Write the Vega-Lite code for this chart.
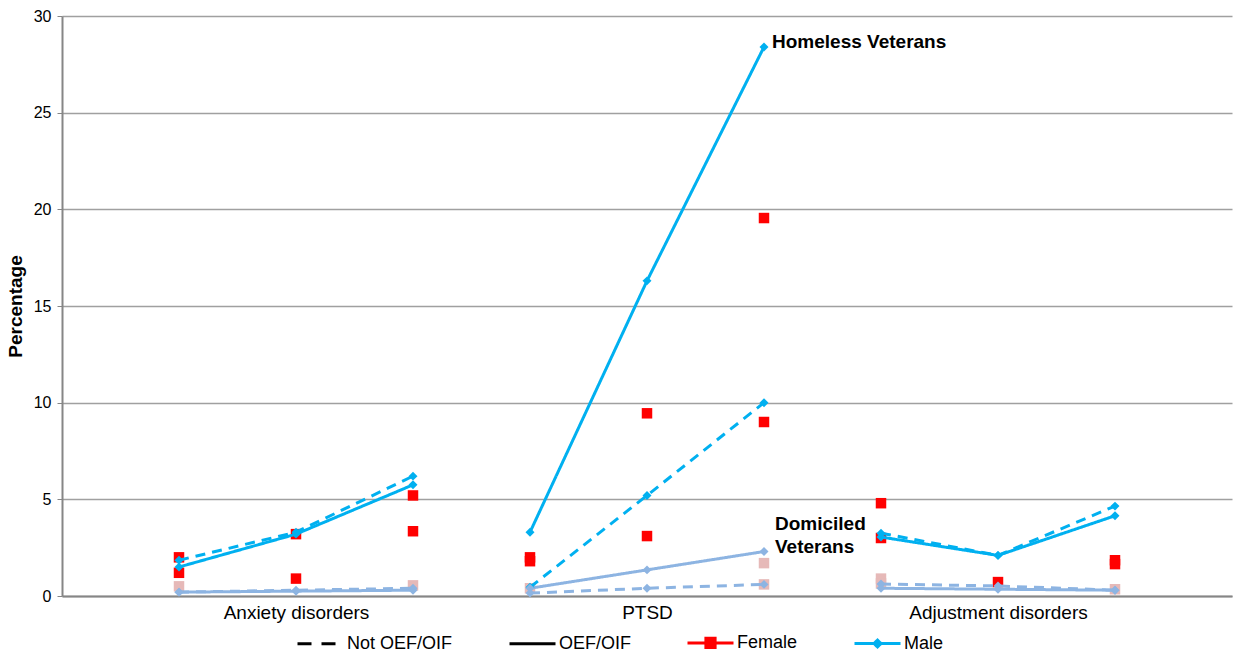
{
  "$schema": "https://vega.github.io/schema/vega-lite/v6.json",
  "width": 1170,
  "height": 580,
  "autosize": {"type": "none"},
  "padding": {"left": 62, "top": 16, "right": 3, "bottom": 60},
  "background": "white",
  "config": {"view": {"stroke": null}, "font": "Liberation Sans"},
  "datasets": {
    "male": [
      {"disorder": "Anxiety disorders", "pos": 1, "series": "Homeless male", "service": "OEF/OIF", "value": 1.5},
      {"disorder": "Anxiety disorders", "pos": 2, "series": "Homeless male", "service": "OEF/OIF", "value": 3.2},
      {"disorder": "Anxiety disorders", "pos": 3, "series": "Homeless male", "service": "OEF/OIF", "value": 5.75},
      {"disorder": "Anxiety disorders", "pos": 1, "series": "Homeless male", "service": "Not OEF/OIF", "value": 1.85},
      {"disorder": "Anxiety disorders", "pos": 2, "series": "Homeless male", "service": "Not OEF/OIF", "value": 3.3},
      {"disorder": "Anxiety disorders", "pos": 3, "series": "Homeless male", "service": "Not OEF/OIF", "value": 6.2},
      {"disorder": "Anxiety disorders", "pos": 1, "series": "Domiciled male", "service": "OEF/OIF", "value": 0.2},
      {"disorder": "Anxiety disorders", "pos": 2, "series": "Domiciled male", "service": "OEF/OIF", "value": 0.25},
      {"disorder": "Anxiety disorders", "pos": 3, "series": "Domiciled male", "service": "OEF/OIF", "value": 0.3},
      {"disorder": "Anxiety disorders", "pos": 1, "series": "Domiciled male", "service": "Not OEF/OIF", "value": 0.2},
      {"disorder": "Anxiety disorders", "pos": 2, "series": "Domiciled male", "service": "Not OEF/OIF", "value": 0.3},
      {"disorder": "Anxiety disorders", "pos": 3, "series": "Domiciled male", "service": "Not OEF/OIF", "value": 0.4},
      {"disorder": "PTSD", "pos": 4, "series": "Homeless male", "service": "OEF/OIF", "value": 3.3},
      {"disorder": "PTSD", "pos": 5, "series": "Homeless male", "service": "OEF/OIF", "value": 16.3},
      {"disorder": "PTSD", "pos": 6, "series": "Homeless male", "service": "OEF/OIF", "value": 28.4},
      {"disorder": "PTSD", "pos": 4, "series": "Homeless male", "service": "Not OEF/OIF", "value": 0.45},
      {"disorder": "PTSD", "pos": 5, "series": "Homeless male", "service": "Not OEF/OIF", "value": 5.2},
      {"disorder": "PTSD", "pos": 6, "series": "Homeless male", "service": "Not OEF/OIF", "value": 10.0},
      {"disorder": "PTSD", "pos": 4, "series": "Domiciled male", "service": "OEF/OIF", "value": 0.4},
      {"disorder": "PTSD", "pos": 5, "series": "Domiciled male", "service": "OEF/OIF", "value": 1.35},
      {"disorder": "PTSD", "pos": 6, "series": "Domiciled male", "service": "OEF/OIF", "value": 2.3},
      {"disorder": "PTSD", "pos": 4, "series": "Domiciled male", "service": "Not OEF/OIF", "value": 0.15},
      {"disorder": "PTSD", "pos": 5, "series": "Domiciled male", "service": "Not OEF/OIF", "value": 0.4},
      {"disorder": "PTSD", "pos": 6, "series": "Domiciled male", "service": "Not OEF/OIF", "value": 0.6},
      {"disorder": "Adjustment disorders", "pos": 7, "series": "Homeless male", "service": "OEF/OIF", "value": 3.05},
      {"disorder": "Adjustment disorders", "pos": 8, "series": "Homeless male", "service": "OEF/OIF", "value": 2.1},
      {"disorder": "Adjustment disorders", "pos": 9, "series": "Homeless male", "service": "OEF/OIF", "value": 4.15},
      {"disorder": "Adjustment disorders", "pos": 7, "series": "Homeless male", "service": "Not OEF/OIF", "value": 3.25},
      {"disorder": "Adjustment disorders", "pos": 8, "series": "Homeless male", "service": "Not OEF/OIF", "value": 2.1},
      {"disorder": "Adjustment disorders", "pos": 9, "series": "Homeless male", "service": "Not OEF/OIF", "value": 4.65},
      {"disorder": "Adjustment disorders", "pos": 7, "series": "Domiciled male", "service": "OEF/OIF", "value": 0.4},
      {"disorder": "Adjustment disorders", "pos": 8, "series": "Domiciled male", "service": "OEF/OIF", "value": 0.35},
      {"disorder": "Adjustment disorders", "pos": 9, "series": "Domiciled male", "service": "OEF/OIF", "value": 0.3},
      {"disorder": "Adjustment disorders", "pos": 7, "series": "Domiciled male", "service": "Not OEF/OIF", "value": 0.62},
      {"disorder": "Adjustment disorders", "pos": 8, "series": "Domiciled male", "service": "Not OEF/OIF", "value": 0.52},
      {"disorder": "Adjustment disorders", "pos": 9, "series": "Domiciled male", "service": "Not OEF/OIF", "value": 0.3}
    ],
    "female": [
      {"pos": 1, "series": "Homeless female", "value": 2.0},
      {"pos": 1, "series": "Homeless female", "value": 1.2},
      {"pos": 2, "series": "Homeless female", "value": 3.2},
      {"pos": 2, "series": "Homeless female", "value": 0.9},
      {"pos": 3, "series": "Homeless female", "value": 5.2},
      {"pos": 3, "series": "Homeless female", "value": 3.35},
      {"pos": 4, "series": "Homeless female", "value": 2.0},
      {"pos": 4, "series": "Homeless female", "value": 1.8},
      {"pos": 5, "series": "Homeless female", "value": 9.45},
      {"pos": 5, "series": "Homeless female", "value": 3.1},
      {"pos": 6, "series": "Homeless female", "value": 19.55},
      {"pos": 6, "series": "Homeless female", "value": 9.0},
      {"pos": 7, "series": "Homeless female", "value": 4.8},
      {"pos": 7, "series": "Homeless female", "value": 3.0},
      {"pos": 8, "series": "Homeless female", "value": 0.72},
      {"pos": 9, "series": "Homeless female", "value": 1.85},
      {"pos": 9, "series": "Homeless female", "value": 1.65},
      {"pos": 1, "series": "Domiciled female", "value": 0.5},
      {"pos": 3, "series": "Domiciled female", "value": 0.55},
      {"pos": 4, "series": "Domiciled female", "value": 0.4},
      {"pos": 6, "series": "Domiciled female", "value": 1.7},
      {"pos": 6, "series": "Domiciled female", "value": 0.6},
      {"pos": 7, "series": "Domiciled female", "value": 0.9},
      {"pos": 7, "series": "Domiciled female", "value": 0.65},
      {"pos": 9, "series": "Domiciled female", "value": 0.35}
    ],
    "notes": [
      {"pos": 6, "value": 28.4, "label": "Homeless Veterans"},
      {"pos": 6, "value": 3.1, "label": "Domiciled\nVeterans"}
    ]
  },
  "encoding": {
    "x": {
      "field": "pos",
      "type": "quantitative",
      "scale": {"domain": [0, 10], "nice": false, "zero": false},
      "axis": {
        "title": null,
        "values": [2, 5, 8],
        "labelExpr": "datum.value == 2 ? 'Anxiety disorders' : datum.value == 5 ? 'PTSD' : 'Adjustment disorders'",
        "ticks": false,
        "grid": false,
        "domainColor": "#868686",
        "domainWidth": 2,
        "labelFontSize": 19,
        "labelColor": "#000000",
        "labelPadding": 7,
        "labelFont": "Liberation Sans"
      }
    },
    "y": {
      "field": "value",
      "type": "quantitative",
      "scale": {"domain": [0, 30], "nice": false},
      "axis": {
        "title": "Percentage",
        "titleFontSize": 19,
        "titleFontWeight": "bold",
        "titleColor": "#000000",
        "titlePadding": 8,
        "titleFont": "Liberation Sans",
        "values": [0, 5, 10, 15, 20, 25, 30],
        "labelFontSize": 16,
        "labelColor": "#000000",
        "labelFont": "Liberation Sans",
        "labelPadding": 6,
        "tickSize": 5,
        "tickColor": "#868686",
        "domainColor": "#868686",
        "domainWidth": 2,
        "gridColor": "#a0a0a0",
        "gridWidth": 1.3
      }
    }
  },
  "layer": [
    {
      "data": {"name": "female"},
      "mark": {"type": "square", "filled": true, "size": 110, "opacity": 1},
      "encoding": {
        "color": {
          "field": "series",
          "type": "nominal",
          "scale": {
            "domain": ["Not OEF/OIF", "OEF/OIF", "Female", "Male", "Homeless male", "Domiciled male", "Homeless female", "Domiciled female"],
            "range": ["#000000", "#000000", "#FF0000", "#00B0F0", "#00B0F0", "#8DB4E2", "#FF0000", "#E6B9B8"]
          },
          "legend": {
            "title": null,
            "orient": "none",
            "legendX": 234,
            "legendY": 602,
            "direction": "horizontal",
            "columns": 4,
            "values": ["Not OEF/OIF", "OEF/OIF", "Female", "Male"],
            "columnPadding": 50,
            "labelFontSize": 18,
            "labelFont": "Liberation Sans Narrow, Liberation Sans",
            "labelColor": "#000000",
            "labelOffset": 2,
            "symbolSize": 2116,
            "symbolStrokeWidth": 3,
            "encoding": {
              "symbols": {
                "shape": {
                  "condition": [
                    {"test": "datum.value === 'Female'", "value": "M-1,0L1,0M-0.2,-0.2L0.2,-0.2L0.2,0.2L-0.2,0.2Z"},
                    {"test": "datum.value === 'Male'", "value": "M-1,0L1,0M0,-0.15L0.15,0L0,0.15L-0.15,0Z"}
                  ],
                  "value": "M-1,0L1,0"
                },
                "stroke": {
                  "condition": [
                    {"test": "datum.value === 'Female'", "value": "#FF0000"},
                    {"test": "datum.value === 'Male'", "value": "#00B0F0"}
                  ],
                  "value": "#000000"
                },
                "strokeDash": {
                  "condition": {"test": "datum.value === 'Not OEF/OIF'", "value": [14, 10]},
                  "value": [1, 0]
                },
                "strokeWidth": {"value": 3},
                "size": {"value": 2116}
              }
            }
          }
        }
      }
    },
    {
      "data": {"name": "male"},
      "mark": {"type": "line", "strokeWidth": 3},
      "encoding": {
        "color": {"field": "series", "type": "nominal"},
        "strokeDash": {
          "field": "service",
          "type": "nominal",
          "scale": {"domain": ["Not OEF/OIF", "OEF/OIF"], "range": [[10, 7], [1, 0]]},
          "legend": null
        },
        "detail": {"field": "disorder"}
      }
    },
    {
      "data": {"name": "male"},
      "mark": {"type": "point", "shape": "diamond", "filled": true, "size": 80, "opacity": 1},
      "encoding": {
        "color": {"field": "series", "type": "nominal"}
      }
    },
    {
      "data": {"name": "notes"},
      "transform": [{"filter": "datum.value > 20"}],
      "mark": {"type": "text", "align": "left", "baseline": "middle", "dx": 8, "dy": -5, "fontSize": 19, "fontWeight": "bold", "font": "Liberation Sans", "color": "#000000"},
      "encoding": {"text": {"field": "label"}}
    },
    {
      "data": {"name": "notes"},
      "transform": [{"filter": "datum.value < 20"}],
      "mark": {"type": "text", "align": "left", "baseline": "middle", "dx": 11, "dy": -12, "fontSize": 19, "fontWeight": "bold", "font": "Liberation Sans", "color": "#000000", "lineBreak": "\n", "lineHeight": 23},
      "encoding": {"text": {"field": "label"}}
    }
  ]
}
